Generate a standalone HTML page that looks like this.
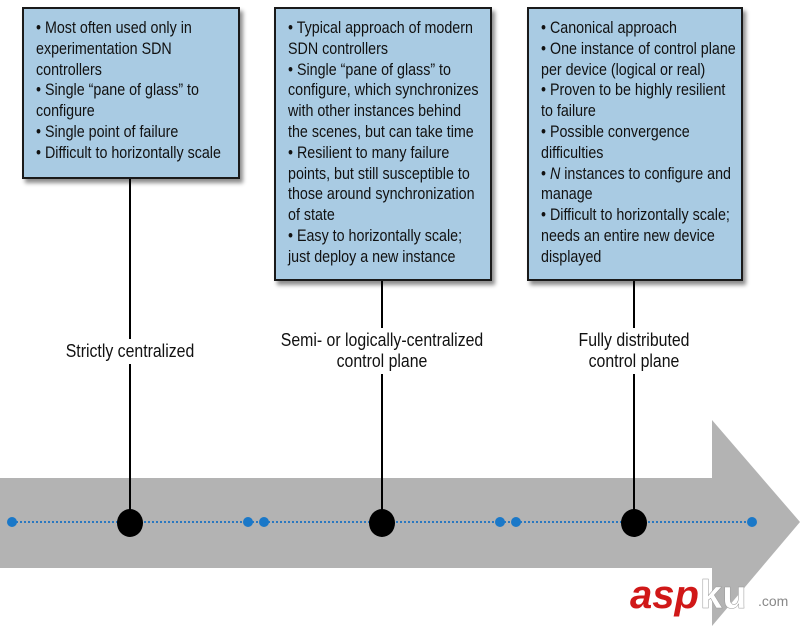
<!DOCTYPE html>
<html><head><meta charset="utf-8"><style>
body{margin:0;width:800px;height:626px;background:#fff;position:relative;overflow:hidden;font-family:"Liberation Sans",sans-serif;}
.box{position:absolute;background:#a9cbe3;border:2px solid #1a1a1a;box-shadow:3px 4px 4px rgba(0,0,0,0.45);box-sizing:border-box;padding:9px 0 0 12px;font-size:17px;line-height:20.8px;color:#111;white-space:nowrap;}
.box span{display:inline-block;transform:scaleX(0.84);transform-origin:0 0;}
.lbl{position:absolute;font-size:18px;line-height:21px;color:#111;text-align:center;white-space:nowrap;transform:translateX(-50%) scaleX(0.88);background:#fff;padding:2px 4px;}
</style></head><body>
<svg width="800" height="626" style="position:absolute;left:0;top:0">
<polygon points="0,478 712,478 712,420 800,522 712,626 712,568 0,568" fill="#b3b3b3"/>
<line x1="12" y1="522" x2="752" y2="522" stroke="#2a78c0" stroke-width="2" stroke-dasharray="2,2"/>
<g fill="#1a78c8">
<circle cx="12" cy="522" r="5"/><circle cx="248" cy="522" r="5"/><circle cx="264" cy="522" r="5"/>
<circle cx="500" cy="522" r="5"/><circle cx="516" cy="522" r="5"/><circle cx="752" cy="522" r="5"/>
</g>
<line x1="130" y1="178" x2="130" y2="522" stroke="#000" stroke-width="2"/>
<line x1="382" y1="280" x2="382" y2="522" stroke="#000" stroke-width="2"/>
<line x1="634" y1="280" x2="634" y2="522" stroke="#000" stroke-width="2"/>
<ellipse cx="130" cy="523" rx="13" ry="14" fill="#000"/>
<ellipse cx="382" cy="523" rx="13" ry="14" fill="#000"/>
<ellipse cx="634" cy="523" rx="13" ry="14" fill="#000"/>
<text x="630" y="608" font-family="Liberation Sans" font-weight="bold" font-style="italic" font-size="40" fill="#d01818">asp</text>
<text x="700" y="608" font-family="Liberation Sans" font-weight="bold" font-size="40" fill="#fff" stroke="#999" stroke-width="0.5">ku</text>
<text x="758" y="606" font-family="Liberation Sans" font-size="14" fill="#888">.com</text>
</svg>
<div class="box" style="left:22px;top:7px;width:218px;height:172px"><span>• Most often used only in<br>experimentation SDN<br>controllers<br>• Single “pane of glass” to<br>configure<br>• Single point of failure<br>• Difficult to horizontally scale</span></div>
<div class="box" style="left:274px;top:7px;width:218px;height:274px"><span>• Typical approach of modern<br>SDN controllers<br>• Single “pane of glass” to<br>configure, which synchronizes<br>with other instances behind<br>the scenes, but can take time<br>• Resilient to many failure<br>points, but still susceptible to<br>those around synchronization<br>of state<br>• Easy to horizontally scale;<br>just deploy a new instance</span></div>
<div class="box" style="left:527px;top:7px;width:216px;height:274px"><span>• Canonical approach<br>• One instance of control plane<br>per device (logical or real)<br>• Proven to be highly resilient<br>to failure<br>• Possible convergence<br>difficulties<br>• <i>N</i> instances to configure and<br>manage<br>• Difficult to horizontally scale;<br>needs an entire new device<br>displayed</span></div>
<div class="lbl" style="left:130px;top:339px">Strictly centralized</div>
<div class="lbl" style="left:382px;top:328px">Semi- or logically-centralized<br>control plane</div>
<div class="lbl" style="left:634px;top:328px">Fully distributed<br>control plane</div>
</body></html>
